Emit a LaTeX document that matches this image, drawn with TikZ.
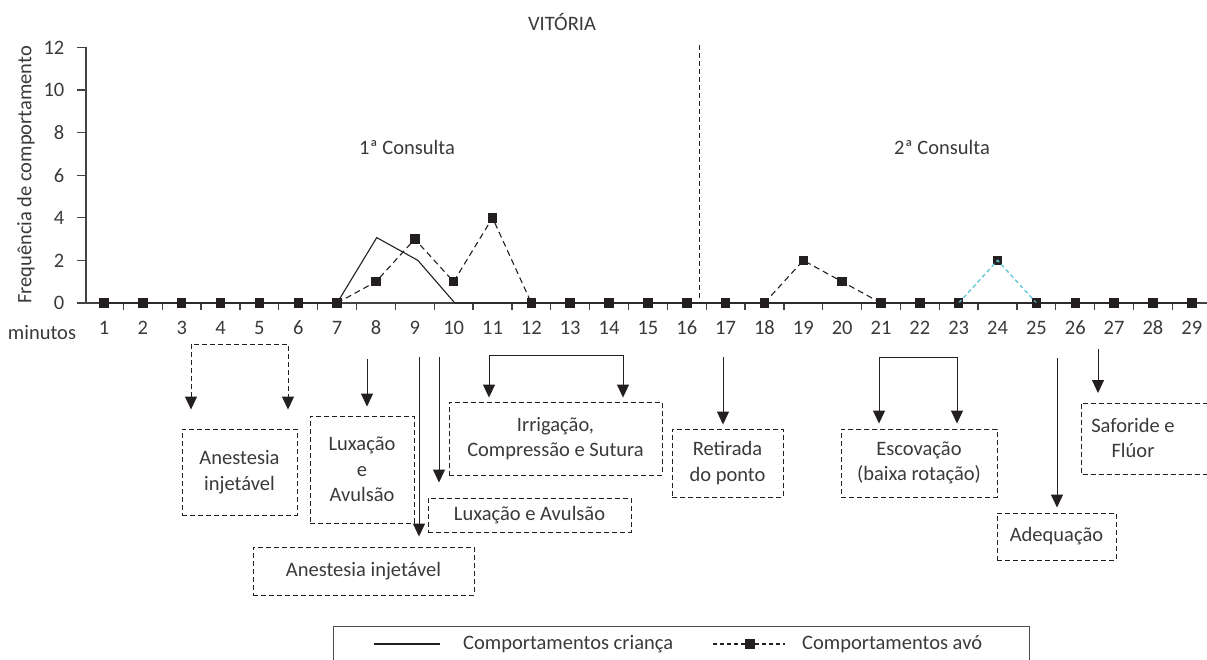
\documentclass[tikz,border=0pt]{standalone}
\usepackage{fontspec}
\setmainfont{Carlito}
\usetikzlibrary{arrows.meta,positioning,calc}
\definecolor{ink}{HTML}{231F20}
\definecolor{txt}{HTML}{3A3A3A}
\definecolor{avocyan}{HTML}{5CC6D6}

\begin{document}
\begin{tikzpicture}[x=1pt,y=-1pt,
    every node/.append style={inner sep=0pt, text=txt, font=\fontsize{20.5}{25.5}\selectfont},
    >={Triangle[width=12pt,length=13pt]},
    axisline/.style={draw=ink!85, line width=1.3pt},
    crianca/.style={draw=ink, line width=1.1pt},
    avo/.style={draw=ink, line width=1.1pt, dash pattern=on 6pt off 4pt},
    avoblue/.style={draw=avocyan, line width=1.3pt, dash pattern=on 4pt off 3pt},
    marker/.style={fill=ink, minimum size=9.5pt},
    actbox/.style={draw=ink, line width=0.9pt, dash pattern=on 5pt off 3pt, align=center},
    actarrow/.style={draw=ink, line width=1pt, ->},
  ]
  \useasboundingbox (0,0) rectangle (1207,659);

  % titles
  \node (titulo) at (562,22) {VITÓRIA};
  \node (cons1) at (407,147) {1ª Consulta};
  \node (cons2) at (942,147) {2ª Consulta};
  \node (ylab) [rotate=90] at (26,175) {Frequência de comportamento};
  \node (xlab) at (42,333) {minutos};

  % chart
  \begin{scope}[shift={(104,303)},x=38.85pt,y=21.3pt]
    \draw[axisline] (-0.463,12) -- (-0.463,0) -- (28.4,0);
    \foreach \v in {0,2,...,12}
      \draw[axisline] (-0.463,\v) -- ++(-9pt,0) node (yl\v) [left=12pt] {\v};
    \foreach \n in {1,...,28}
      \draw[axisline] (\n-0.5,0) -- ++(0,-7pt);
    \foreach \n in {1,...,29}
      \node (xl\n) at (\n-1,-1.17) {\n};
    % session divider
    \draw[ink, line width=1pt, dash pattern=on 5pt off 3pt] (15.34,12.1) -- (15.34,0.1);
    % avo
    \foreach \n/\v in {1/0,2/0,3/0,4/0,5/0,6/0,7/0,8/1,9/3,10/1,11/4,12/0,13/0,14/0,15/0,
                       16/0,17/0,18/0,19/2,20/1,21/0,22/0,23/0,24/2,25/0,26/0,27/0,28/0,29/0}
      \node[marker] (m\n) at (\n-1,\v) {};
    \draw[avo] (m7.center) -- (m8.center) -- (m9.center) -- (m10.center) -- (m11.center) -- (m12.center);
    \draw[avo] (m18.center) -- (m19.center) -- (m20.center) -- (m21.center);
    \draw[avoblue] (m23.center) -- (m24.center) -- (m25.center);
    % crianca
    \draw[crianca] (0,0) -- (6,0) -- (7.02,3.07) -- (8.08,2) -- (9.03,0) -- (28,0);
  \end{scope}

  % procedures
  \node[actbox, minimum width=115pt, minimum height=86pt] (anest1) at (239.5,472) {Anestesia\\injetável};
  \node[actbox, minimum width=104pt, minimum height=107pt] (luxa1) at (362,469.5) {Luxação\\e\\Avulsão};
  \node[actbox, minimum width=213pt, minimum height=73pt] (irrig) at (555.5,438.5) {Irrigação,\\Compressão e Sutura};
  \node[actbox, minimum width=203pt, minimum height=34pt] (luxa2) at (529.5,515) {Luxação e Avulsão};
  \node[actbox, minimum width=221pt, minimum height=48pt] (anest2) at (363.5,571) {Anestesia injetável};
  \node[actbox, minimum width=111pt, minimum height=68pt] (retir) at (727.5,463) {Retirada\\do ponto};
  \node[actbox, minimum width=156pt, minimum height=68pt] (escov) at (919,463) {Escovação\\(baixa rotação)};
  \node[actbox, minimum width=119pt, minimum height=47pt] (adeq) at (1056.5,536.5) {Adequação};
  \node[align=center] (safor) at (1133,438) {Saforide e\\Flúor};
  \coordinate (sbox) at (1081,403);
  \draw[actbox] (1240,403) -- (sbox) -- (1081,474) -- (1240,474);

  % arrows
  \coordinate (an1l) at (191,344);
  \coordinate (an1r) at (288,344);
  \draw[actarrow, <->, dash pattern=on 5pt off 3pt, shorten <=19pt, shorten >=19pt]
    (an1l |- anest1.north) -- (an1l) -- (an1r) -- (an1r |- anest1.north);
  \coordinate (t8) at (367,359);
  \draw[actarrow, shorten >=9pt] (t8) -- (t8 |- luxa1.north);
  \coordinate (t9) at (419,357);
  \draw[actarrow, shorten >=10pt] (t9) -- (t9 |- anest2.north);
  \coordinate (t10) at (439,357);
  \draw[actarrow, shorten >=15pt] (t10) -- (t10 |- luxa2.north);
  \coordinate (irl) at (489,355);
  \coordinate (irr) at (623,355);
  \draw[actarrow, <->, shorten <=4pt, shorten >=4pt]
    (irl |- irrig.north) -- (irl) -- (irr) -- (irr |- irrig.north);
  \coordinate (t17) at (723,357);
  \draw[actarrow, shorten >=4pt] (t17) -- (t17 |- retir.north);
  \coordinate (esl) at (879,357);
  \coordinate (esr) at (957,357);
  \draw[actarrow, <->, shorten <=5pt, shorten >=5pt]
    (esl |- escov.north) -- (esl) -- (esr) -- (esr |- escov.north);
  \coordinate (t26) at (1057,358);
  \draw[actarrow, shorten >=5pt] (t26) -- (t26 |- adeq.north);
  \coordinate (t27) at (1098,349);
  \draw[actarrow, shorten >=10pt] (t27) -- (t27 |- sbox);

  % legend
  \draw[ink!80, line width=1pt] (333,700) -- (333,626) -- (1029,626) -- (1029,700);
  \coordinate (lgA) at (374,644);
  \coordinate (lgB) at (440,644);
  \draw[crianca] (lgA) -- (lgB);
  \node (lgtA) [anchor=west] at (463,644) {Comportamentos criança};
  \node[marker] (lgm) at (750,644) {};
  \coordinate (lgC) at (713,644);
  \coordinate (lgD) at (785,644);
  \draw[avo, dash pattern=on 4pt off 3pt] (lgC) -- (lgm) -- (lgD);
  \node (lgtB) [anchor=west] at (802,644) {Comportamentos avó};
\end{tikzpicture}
\end{document}
